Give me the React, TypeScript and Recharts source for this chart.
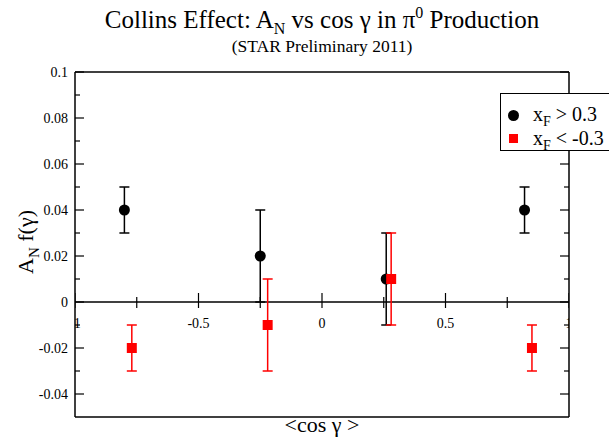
import React from 'react';
import { ScatterChart, Scatter, XAxis, YAxis, ErrorBar, ReferenceLine } from 'recharts';

// x_F > 0.3
const posX = [-0.8, -0.25, 0.26, 0.82];
const posY = [0.04, 0.02, 0.01, 0.04];
const posErr = [0.01, 0.02, 0.02, 0.01];
// x_F < -0.3
const negX = [-0.77, -0.22, 0.28, 0.85];
const negY = [-0.02, -0.01, 0.01, -0.02];
const negErr = [0.01, 0.02, 0.02, 0.01];

const xTicks = [-1, -0.75, -0.5, -0.25, 0, 0.25, 0.5, 0.75, 1];
const xTickLabels = ['-1', '', '-0.5', '', '0', '', '0.5', '', '1'];
const yTicks = [-0.04, -0.03, -0.02, -0.01, 0, 0.01, 0.02, 0.03, 0.04, 0.05, 0.06, 0.07, 0.08, 0.09, 0.1];
const yTickLabels = ['-0.04', '', '-0.02', '', '0', '', '0.02', '', '0.04', '', '0.06', '', '0.08', '', '0.1'];

const posData = posX.map((x, i) => ({ x, y: posY[i], err: posErr[i] }));
const negData = negX.map((x, i) => ({ x, y: negY[i], err: negErr[i] }));
const zeroTicks = xTicks.map((x, i) => ({ x, y: 0, label: xTickLabels[i] }));

const FONT = '"Liberation Serif", serif';

const LeftTick = (props: any) => {
  const { x, y, payload } = props;
  const label = yTickLabels[yTicks.indexOf(payload.value)];
  const len = label ? 9 : 5;
  return (
    <g>
      <line x1={x} x2={x + len} y1={y} y2={y} stroke="#000" strokeWidth={1.2} />
      {label && (
        <text x={x - 7} y={y} dy="0.35em" textAnchor="end" fontFamily={FONT} fontSize={14} fill="#000">
          {label}
        </text>
      )}
    </g>
  );
};

const RightTick = (props: any) => {
  const { x, y, payload } = props;
  const label = yTickLabels[yTicks.indexOf(payload.value)];
  const len = label ? 9 : 5;
  return <line x1={x - len} x2={x} y1={y} y2={y} stroke="#000" strokeWidth={1.2} />;
};

const ZeroTick = (props: any) => {
  const { cx, cy, payload } = props;
  const major = payload.label !== '';
  return (
    <g>
      <line x1={cx} x2={cx} y1={cy - (major ? 9 : 5)} y2={cy + 6} stroke="#000" strokeWidth={1.2} />
      {major && (
        <text x={cx} y={cy + 26} textAnchor="middle" fontFamily={FONT} fontSize={14} fill="#000">
          {payload.label}
        </text>
      )}
    </g>
  );
};

const Dot = (props: any) => <circle cx={props.cx} cy={props.cy} r={5.5} fill="#000" />;
const Square = (props: any) => <rect x={props.cx - 5} y={props.cy - 5} width={10} height={10} fill="#ff0000" />;

const axisLine = { stroke: '#000', strokeWidth: 1.5 };

export default function App() {
  return (
    <div style={{ position: 'absolute', left: 0, top: 0, width: 609, height: 437, overflow: 'hidden', background: '#fff', fontFamily: FONT, color: '#000' }}>
      <ScatterChart width={609} height={437} margin={{ top: 71, right: 39, bottom: 19, left: 74 }}>
        <XAxis type="number" dataKey="x" domain={[-1, 1]} allowDataOverflow tick={false} tickLine={false} height={1} axisLine={axisLine} />
        <XAxis xAxisId="top" orientation="top" type="number" dataKey="x" domain={[-1, 1]} allowDataOverflow tick={false} tickLine={false}
          height={1} axisLine={axisLine} />
        <YAxis type="number" dataKey="y" domain={[-0.05, 0.1]} allowDataOverflow ticks={yTicks} interval={0} tickSize={0} tickMargin={0}
          tickLine={false} tick={<LeftTick />} width={1} axisLine={axisLine} />
        <YAxis yAxisId="right" orientation="right" type="number" dataKey="y" domain={[-0.05, 0.1]} allowDataOverflow ticks={yTicks} interval={0}
          tickSize={0} tickMargin={0} tickLine={false} tick={<RightTick />} width={1} axisLine={axisLine} />
        <ReferenceLine y={0} stroke="#000" strokeWidth={1.5} />
        <Scatter data={zeroTicks} shape={<ZeroTick />} isAnimationActive={false} />
        <Scatter data={posData} shape={<Dot />} isAnimationActive={false}>
          <ErrorBar dataKey="err" direction="y" width={5} stroke="#000" strokeWidth={1.5} />
        </Scatter>
        <Scatter data={negData} shape={<Square />} isAnimationActive={false}>
          <ErrorBar dataKey="err" direction="y" width={5} stroke="#ff0000" strokeWidth={1.5} />
        </Scatter>
      </ScatterChart>

      <div style={{ position: 'absolute', left: 0, width: 644, top: 7, textAlign: 'center', fontSize: 25, lineHeight: '25px', whiteSpace: 'nowrap' }}>
        Collins Effect: A<span style={{ fontSize: 16, lineHeight: '16px', position: 'relative', top: 6 }}>N</span> vs cos γ in π
        <span style={{ fontSize: 16, lineHeight: '16px', position: 'relative', top: -10 }}>0</span> Production
      </div>
      <div style={{ position: 'absolute', left: 0, width: 644, top: 37, textAlign: 'center', fontSize: 17.5, lineHeight: '18px', whiteSpace: 'nowrap' }}>
        (STAR Preliminary 2011)
      </div>
      <div style={{ position: 'absolute', left: 0, width: 644, top: 414, textAlign: 'center', fontSize: 22, lineHeight: '22px', whiteSpace: 'nowrap' }}>
        &lt;cos γ &gt;
      </div>
      <div style={{ position: 'absolute', left: 27, top: 242, transform: 'translate(-50%, -50%) rotate(-90deg)', fontSize: 22, lineHeight: '22px', whiteSpace: 'nowrap' }}>
        A<span style={{ fontSize: 15, position: 'relative', top: 6 }}>N</span> f(γ)
      </div>

      <div style={{ position: 'absolute', left: 500, top: 93, width: 150, height: 56, border: '1px solid #000', background: '#fff', fontSize: 20, lineHeight: '20px' }}>
        <div style={{ position: 'absolute', left: 7, top: 16, width: 11, height: 11, borderRadius: '50%', background: '#000' }} />
        <div style={{ position: 'absolute', left: 32, top: 10, whiteSpace: 'nowrap' }}>
          x<span style={{ fontSize: 14, position: 'relative', top: 5 }}>F</span> &gt; 0.3
        </div>
        <div style={{ position: 'absolute', left: 8, top: 40, width: 9, height: 9, background: '#ff0000' }} />
        <div style={{ position: 'absolute', left: 32, top: 34, whiteSpace: 'nowrap' }}>
          x<span style={{ fontSize: 14, position: 'relative', top: 5 }}>F</span> &lt; -0.3
        </div>
      </div>
    </div>
  );
}
